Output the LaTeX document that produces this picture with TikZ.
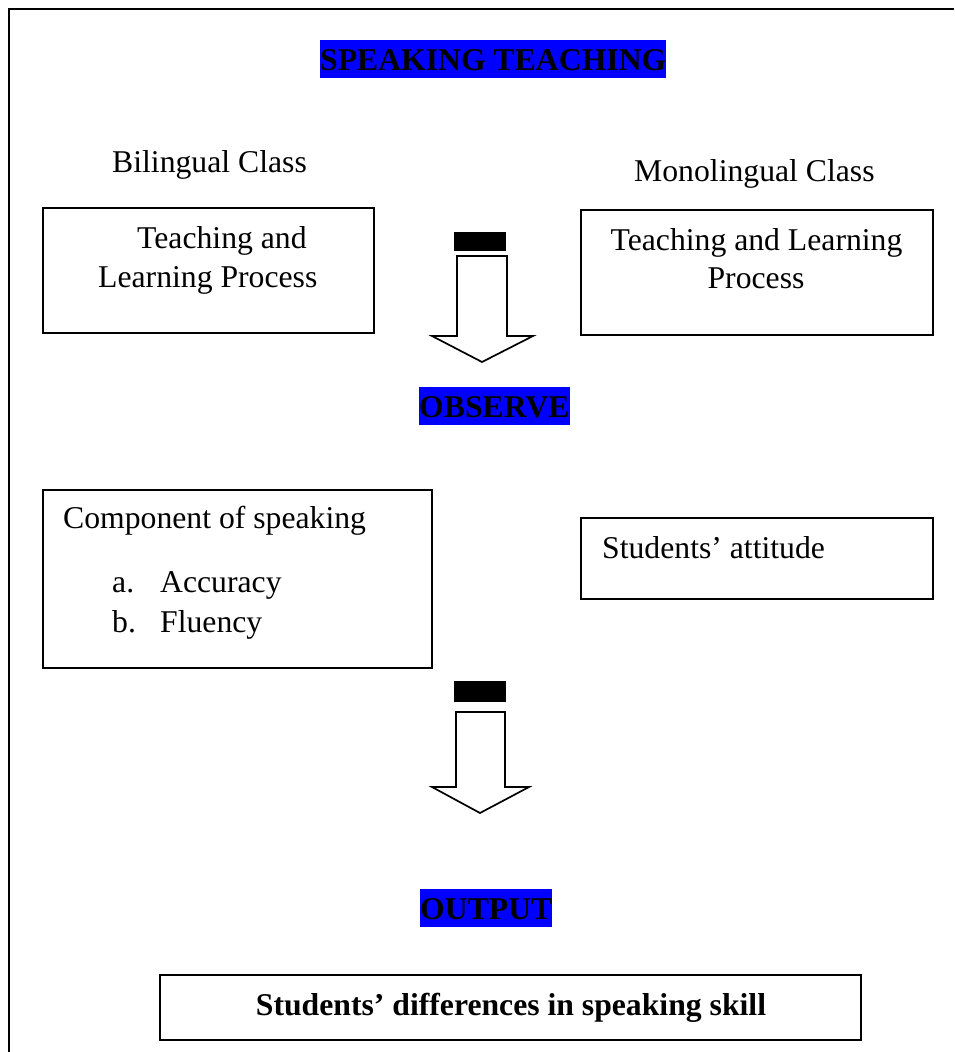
\documentclass[tikz,border=0pt]{standalone}
\usepackage{fontspec}
\setmainfont{Liberation Serif}
\definecolor{hl}{RGB}{0,0,255}
\begin{document}
\begin{tikzpicture}[x=1pt,y=-1pt,
  every node/.style={font=\fontsize{31.7}{38}\selectfont},
  txt/.style={inner sep=0pt, anchor=base west},
  txtc/.style={inner sep=0pt, anchor=base},
  hlbox/.style={fill=hl, inner sep=0pt, anchor=base west, text height=30pt, text depth=7.5pt, font=\fontsize{31.7}{38}\selectfont\bfseries},
  frame/.style={draw, line width=1.6pt, inner sep=0pt},
  blockarrow/.style={draw, line width=1.7pt, fill=white, line join=miter},
  bar/.style={fill=black}
]
\useasboundingbox (0,0) rectangle (954,1052);
% outer frame (only left and top edges visible)
\draw[line width=1.6pt] (9,1052) -- (9,9) -- (954,9);

% headings
\node[hlbox] (speak) at (320,70) {SPEAKING TEACHING};
\node[hlbox] (observe) at (419,417) {OBSERVE};
\node[hlbox] (output) at (420,919) {OUTPUT};

% class labels
\node[txt] (bil) at (112,172) {Bilingual Class};
\node[txt] (mono) at (634,181) {Monolingual Class};

% boxes
\node[frame, minimum width=331pt, minimum height=125pt] (bilbox) at (208.5,270.5) {};
\node[frame, minimum width=352pt, minimum height=125pt] (monobox) at (757,272.5) {};
\node[frame, minimum width=389pt, minimum height=178pt] (compbox) at (237.5,579) {};
\node[frame, minimum width=352pt, minimum height=81pt] (attbox) at (757,558.5) {};
\node[frame, minimum width=701pt, minimum height=65pt] (outbox) at (510.5,1007.5) {};

% box texts
\node[txt] (bilA) at (137,248) {Teaching and};
\node[txt] (bilB) at (98,287) {Learning Process};
\node[txtc] (monoA) at (756.5,250) {Teaching and Learning};
\node[txtc] (monoB) at (756,288) {Process};
\node[txt] (comp) at (63,528) {Component of speaking};
\node[txt] (la) at (112,592) {a.};
\node[txt] (acc) at (160,592) {Accuracy};
\node[txt] (lb) at (112,632) {b.};
\node[txt] (flu) at (160,632) {Fluency};
\node[txt] (att) at (602,558) {Students’ attitude};
\node[txtc, font=\fontsize{31.7}{38}\selectfont\bfseries] (diff) at (511,1015) {Students’ differences in speaking skill};

% block arrow 1
\fill[bar] (454,232) rectangle (506,251);
\draw[blockarrow] (457,256) -- (507,256) -- (507,336) -- (533,336) -- (482,362) -- (432,336) -- (457,336) -- cycle;

% block arrow 2
\fill[bar] (454,681) rectangle (506,702);
\draw[blockarrow] (456,712) -- (505,712) -- (505,787) -- (529,787) -- (480,813) -- (432,787) -- (456,787) -- cycle;
\end{tikzpicture}
\end{document}
